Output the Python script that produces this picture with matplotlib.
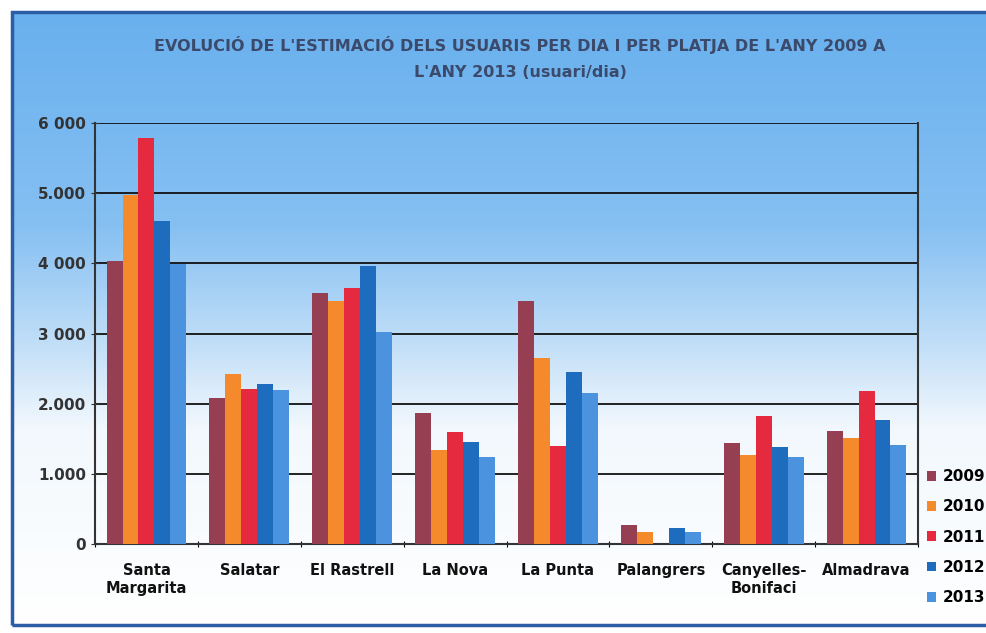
import matplotlib
matplotlib.use("Agg")
import matplotlib.pyplot as plt
import numpy as np
from matplotlib.colors import LinearSegmentedColormap
from matplotlib.patches import Rectangle

# beaches and yearly estimates (users/day)
platges = ["Santa\nMargarita", "Salatar", "El Rastrell", "La Nova", "La Punta",
           "Palangrers", "Canyelles-\nBonifaci", "Almadrava"]
anys = ["2009", "2010", "2011", "2012", "2013"]
u2009 = [4030, 2080, 3580, 1870, 3460, 270, 1440, 1610]
u2010 = [4970, 2420, 3460, 1340, 2650, 170, 1270, 1510]
u2011 = [5780, 2210, 3650, 1600, 1400, 0, 1820, 2180]
u2012 = [4600, 2280, 3960, 1450, 2450, 230, 1380, 1770]
u2013 = [3990, 2190, 3020, 1240, 2150, 170, 1240, 1410]
series = [u2009, u2010, u2011, u2012, u2013]
colors = ["#973f52", "#f58a2c", "#e5293e", "#1e6cbd", "#4b93df"]
yticks = [0, 1000, 2000, 3000, 4000, 5000, 6000]
ylabels = ["0", "1.000", "2.000", "3 000", "4 000", "5.000", "6 000"]

W, H = 987, 633
fig = plt.figure(figsize=(W / 100, H / 100), dpi=100)
fig.patch.set_facecolor("white")

# gradient background inside frame
bg = fig.add_axes([12 / W, 1 - 625 / H, (W - 12) / W, (625 - 12) / H], zorder=0)
cmap = LinearSegmentedColormap.from_list(
    "sky", [(0, "#68b0ee"), (0.35, "#86c0f2"), (0.55, "#c4e0f8"),
            (0.68, "#f2f8fd"), (1, "#ffffff")])
grad = np.linspace(0, 1, 256).reshape(-1, 1)
bg.imshow(grad, aspect="auto", cmap=cmap, extent=[0, 1, 1, 0])
bg.set_axis_off()
fig.patches.append(Rectangle((12 / W, 1 - 625 / H), (W - 10) / W, (625 - 12) / H,
                             transform=fig.transFigure, fill=False,
                             edgecolor="#2b5ea6", lw=2.5, zorder=5))

ax = fig.add_axes([95 / W, 1 - 544 / H, (918 - 95) / W, (544 - 123) / H], zorder=1)
ax.patch.set_alpha(0)

x = np.arange(len(platges))
bw = 0.155
for i, (vals, c, lab) in enumerate(zip(series, colors, anys)):
    ax.bar(x + (i - 2) * bw, vals, bw, color=c, label=lab, zorder=3)

ax.set_xlim(-0.5, len(platges) - 0.5)
ax.set_ylim(0, 6000)
ax.set_yticks(yticks)
ax.set_yticklabels(ylabels, fontsize=11, fontweight="bold", color="#333333")
ax.yaxis.grid(True, color="#111111", lw=1.3, zorder=1)
ax.set_axisbelow(True)

ax.set_xticks(np.arange(len(platges) + 1) - 0.5)
ax.set_xticklabels([])
ax.set_xticks(x, minor=True)
ax.set_xticklabels(platges, minor=True, fontsize=10.5, fontweight="bold", color="#111111")
ax.tick_params(axis="x", which="minor", length=0, pad=14)
ax.tick_params(axis="x", which="major", length=5, direction="inout")
ax.tick_params(axis="y", length=6, direction="inout", color="#333333")

for s in ["left", "bottom", "right"]:
    ax.spines[s].set_color("#333333")
    ax.spines[s].set_linewidth(1.5)
ax.spines["top"].set_visible(False)

fig.text(0.527, 1 - 58 / H, "EVOLUCIÓ DE L'ESTIMACIÓ DELS USUARIS PER DIA I PER PLATJA DE L'ANY 2009 A\nL'ANY 2013 (usuari/dia)",
         ha="center", va="center", fontsize=11.5, fontweight="bold", color="#3b4a6b",
         linespacing=1.9)

fig.legend(loc="upper left", bbox_to_anchor=(921 / W, 1 - 463 / H), frameon=False,
           handlelength=0.6, handleheight=0.6, handletextpad=0.4, borderaxespad=0,
           labelspacing=1.0, prop={"weight": "bold", "size": 11})

fig.savefig("out.png", dpi=100)
